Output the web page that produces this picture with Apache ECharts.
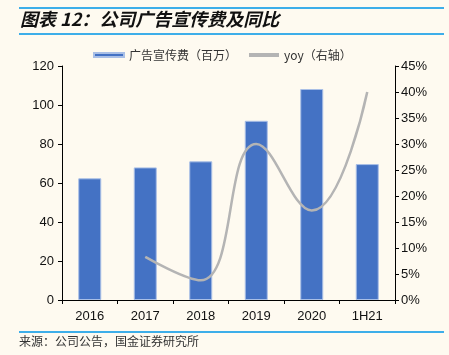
<!DOCTYPE html>
<html>
<head>
<meta charset="utf-8">
<script src="https://cdn.jsdelivr.net/npm/echarts@6/dist/echarts.min.js"></script>
<style>
html,body{margin:0;padding:0;background:#FEFAF0;}
#c{width:449px;height:355px;}
</style>
</head>
<body>
<div id="c"></div>
<script>
var categories = ['2016', '2017', '2018', '2019', '2020', '1H21'];
var adSpend = [62.4, 68.0, 71.1, 91.9, 108.2, 69.7];
var yoy = [null, 8.3, 3.8, 30.0, 17.2, 40.0];
var leftTicks = {min: 0, max: 120, interval: 20};
var rightTicks = {min: 0, max: 45, interval: 5};

var chart = echarts.init(document.getElementById('c'));
var cjk = '"Noto Sans CJK SC", sans-serif';
var latin = '"Liberation Sans", Arial, sans-serif';
chart.setOption({
  backgroundColor: '#FEFAF0',
  animation: false,
  graphic: [
    {type: 'rect', shape: {x: 19, y: 7, width: 425, height: 2}, style: {fill: '#3DAEE9'}},
    {type: 'rect', shape: {x: 19, y: 33, width: 425, height: 2}, style: {fill: '#3DAEE9'}},
    {type: 'text', left: 20, top: 10, style: {text: '图表 12：公司广告宣传费及同比', font: 'italic bold 18px ' + cjk, fill: '#111'}},
    {type: 'rect', shape: {x: 19, y: 331, width: 425, height: 2}, style: {fill: '#3DAEE9'}},
    {type: 'text', left: 19, top: 335, style: {text: '来源：公司公告，国金证券研究所', font: '12px ' + cjk, fill: '#333'}}
  ],
  legend: {
    top: 44, left: 88,
    itemWidth: 30, itemHeight: 4, itemGap: 12,
    textStyle: {fontFamily: cjk, fontSize: 12, color: '#333'},
    data: [
      {name: '广告宣传费（百万）', icon: 'rect'},
      {name: 'yoy（右轴）', icon: 'rect', itemStyle: {color: '#B4B4B4'}}
    ]
  },
  grid: {left: 62, right: 54, top: 66, bottom: 55},
  xAxis: {
    type: 'category', data: categories,
    axisLine: {lineStyle: {color: '#000'}},
    axisTick: {show: true, length: 4, lineStyle: {color: '#000'}},
    axisLabel: {fontFamily: latin, fontSize: 13, color: '#111', margin: 10}
  },
  yAxis: [
    {
      type: 'value', min: leftTicks.min, max: leftTicks.max, interval: leftTicks.interval,
      axisLine: {show: true, lineStyle: {color: '#000'}},
      axisTick: {show: true, length: 4, lineStyle: {color: '#000'}},
      splitLine: {show: false},
      axisLabel: {fontFamily: latin, fontSize: 13, color: '#111', margin: 8}
    },
    {
      type: 'value', min: rightTicks.min, max: rightTicks.max, interval: rightTicks.interval,
      position: 'right',
      axisLine: {show: true, lineStyle: {color: '#000'}},
      axisTick: {show: true, length: 4, lineStyle: {color: '#000'}},
      splitLine: {show: false},
      axisLabel: {fontFamily: latin, fontSize: 13, color: '#111', margin: 6, formatter: '{value}%'}
    }
  ],
  series: [
    {
      name: '广告宣传费（百万）', type: 'bar', data: adSpend, barWidth: 23,
      itemStyle: {color: '#4472C4', borderColor: '#A9BFE6', borderWidth: 1}
    },
    {
      name: 'yoy（右轴）', type: 'line', yAxisIndex: 1, data: yoy,
      smooth: 0.45, symbol: 'none', connectNulls: false,
      lineStyle: {color: '#B4B4B4', width: 2.5},
      itemStyle: {color: '#B4B4B4'}
    }
  ]
});
</script>
</body>
</html>
